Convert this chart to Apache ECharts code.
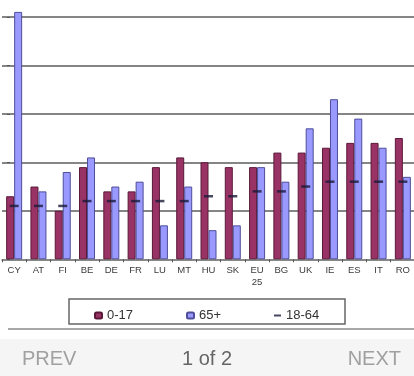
<!DOCTYPE html>
<html>
<head>
<meta charset="utf-8">
<script src="https://cdn.jsdelivr.net/npm/echarts@6/dist/echarts.min.js"></script>
<style>
  html, body { margin: 0; padding: 0; background: #ffffff; }
  #chart { width: 414px; height: 376px; }
</style>
</head>
<body>
<div id="chart"></div>
<script>
// Categories (countries) and values (%)
const categories = ['CY','AT','FI','BE','DE','FR','LU','MT','HU','SK','EU25','BG','UK','IE','ES','IT','RO'];
const age0to17   = [13, 15, 10, 19, 14, 14, 19, 21, 20, 19, 19, 22, 22, 23, 24, 24, 25];
const age65plus  = [51, 14, 18, 21, 15, 16,  7, 15,  6,  7, 19, 16, 27, 33, 29, 23, 17];
const age18to64  = [11, 11, 11, 12, 12, 12, 12, 12, 13, 13, 14, 14, 15, 16, 16, 16, 16];
const seriesNames = ['0-17', '65+', '18-64'];
const footerTexts = ['PREV', '1 of 2', 'NEXT'];

const chart = echarts.init(document.getElementById('chart'), null, { renderer: 'canvas' });

const FONT = '"Liberation Sans", Arial, sans-serif';

chart.setOption({
  animation: false,
  backgroundColor: '#ffffff',
  grid: {
    left: 2, width: 413, top: -7.5, height: 266.8,
    containLabel: false,
    outerBoundsMode: 'none'
  },
  xAxis: {
    type: 'category',
    data: categories,
    boundaryGap: true,
    axisLine: { show: true, lineStyle: { color: '#888', width: 1.5 } },
    axisTick: { show: true, length: 3, interval: 0, lineStyle: { color: '#555', width: 1 } },
    axisLabel: {
      interval: 0,
      margin: 5,
      fontSize: 9.5,
      lineHeight: 12,
      color: '#3a3a3a',
      fontFamily: FONT,
      formatter: v => v === 'EU25' ? 'EU\n25' : v
    },
    splitLine: { show: false }
  },
  yAxis: {
    type: 'value',
    min: 0, max: 55, interval: 10,
    offset: -8,
    axisLine: { show: false },
    axisTick: { show: true, length: 3, lineStyle: { color: '#555' } },
    axisLabel: { show: false },
    splitLine: { show: true, lineStyle: { color: '#858585', width: 2 } }
  },
  legend: [
    {
      data: [seriesNames[0]], left: 89, top: 304, itemWidth: 7, itemHeight: 6,
      textStyle: { fontSize: 13, color: '#333', fontFamily: FONT }
    },
    {
      data: [seriesNames[1]], left: 181, top: 304, itemWidth: 7, itemHeight: 6,
      textStyle: { fontSize: 13, color: '#333', fontFamily: FONT }
    },
    {
      data: [{ name: seriesNames[2], icon: 'rect' }], left: 269, top: 304, itemWidth: 7, itemHeight: 2,
      textStyle: { fontSize: 13, color: '#333', fontFamily: FONT }
    }
  ],
  series: [
    {
      name: seriesNames[0],
      type: 'bar',
      data: age0to17,
      barWidth: 8,
      barGap: '0%',
      itemStyle: { color: '#993366', borderColor: '#5a1838', borderWidth: 1 },
      z: 2
    },
    {
      name: seriesNames[1],
      type: 'bar',
      data: age65plus,
      barWidth: 8,
      barGap: '0%',
      itemStyle: { color: '#9999ff', borderColor: '#4e4e99', borderWidth: 1 },
      z: 2
    },
    {
      name: seriesNames[2],
      type: 'scatter',
      data: age18to64,
      symbol: 'rect',
      symbolSize: [9, 2.5],
      itemStyle: { color: '#1a1a3a' },
      z: 5
    }
  ],
  graphic: [
    {
      type: 'rect', silent: true, z: 0,
      shape: { x: 69, y: 299, width: 276, height: 25 },
      style: { fill: 'none', stroke: '#666', lineWidth: 1.5 }
    },
    {
      type: 'rect', silent: true, z: 0,
      shape: { x: 8, y: 328, width: 410, height: 2 },
      style: { fill: '#a8a8a8' }
    },
    {
      type: 'rect', silent: true, z: 0,
      shape: { x: 0, y: 339, width: 414, height: 37 },
      style: { fill: '#f5f5f5' }
    },
    {
      type: 'text', silent: true, z: 1, left: 22, top: 349,
      style: { text: footerTexts[0], fontSize: 20, fill: '#a0a0a0', fontFamily: FONT }
    },
    {
      type: 'text', silent: true, z: 1, left: 182, top: 349,
      style: { text: footerTexts[1], fontSize: 20, fill: '#666', fontFamily: FONT }
    },
    {
      type: 'text', silent: true, z: 1, right: 13, top: 349,
      style: { text: footerTexts[2], fontSize: 20, fill: '#a0a0a0', fontFamily: FONT }
    }
  ]
});
</script>
</body>
</html>
